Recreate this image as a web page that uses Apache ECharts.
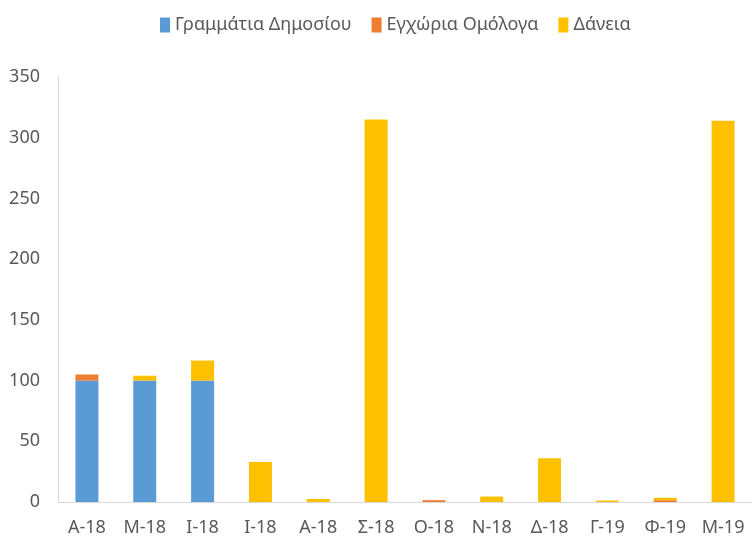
<!DOCTYPE html>
<html>
<head>
<meta charset="utf-8">
<script src="https://cdn.jsdelivr.net/npm/echarts@6/dist/echarts.min.js"></script>
<style>
html, body { margin: 0; padding: 0; background: #fff; }
#chart { width: 752px; height: 545px; }
</style>
</head>
<body>
<div id="chart"></div>
<script>
var categories = ['Α-18', 'Μ-18', 'Ι-18', 'Ι-18', 'Α-18', 'Σ-18', 'Ο-18', 'Ν-18', 'Δ-18', 'Γ-19', 'Φ-19', 'Μ-19'];
var grammatia = [100, 100, 100, 0, 0, 0, 0, 0, 0, 0, 0, 0];
var omologa = [5, 0, 0, 0, 0, 0, 1.5, 0, 0, 0, 1.5, 0];
var daneia = [0, 4, 16.5, 33, 2.5, 315, 0, 4.5, 36, 1.2, 2, 314];
var yTicks = [0, 50, 100, 150, 200, 250, 300, 350];

var font = '"Liberation Sans Narrow", "Noto Sans", sans-serif';
var chart = echarts.init(document.getElementById('chart'));

var option = {
    animation: false,
    legend: {
        top: 11,
        left: 155,
        itemWidth: 10,
        itemHeight: 15,
        itemGap: 20,
        icon: 'rect',
        textStyle: { color: '#595959', fontSize: 18, fontFamily: font }
    },
    grid: { left: 58, right: 0, top: 77, bottom: 43 },
    xAxis: {
        type: 'category',
        data: categories,
        axisLine: { lineStyle: { color: '#d9d9d9' } },
        axisTick: { show: false },
        axisLabel: { color: '#595959', fontSize: 18, fontFamily: font, margin: 17 }
    },
    yAxis: {
        type: 'value',
        min: yTicks[0],
        max: yTicks[yTicks.length - 1],
        interval: 50,
        axisLine: { show: true, lineStyle: { color: '#d9d9d9' } },
        axisTick: { show: false },
        splitLine: { show: false },
        axisLabel: { color: '#595959', fontSize: 18, fontFamily: font, margin: 18 }
    },
    series: [
        { name: 'Γραμμάτια Δημοσίου', type: 'bar', stack: 'a', barWidth: 23, data: grammatia, itemStyle: { color: '#5B9BD5' } },
        { name: 'Εγχώρια Ομόλογα', type: 'bar', stack: 'a', data: omologa, itemStyle: { color: '#ED7D31' } },
        { name: 'Δάνεια', type: 'bar', stack: 'a', data: daneia, itemStyle: { color: '#FFC000' } }
    ]
};

chart.setOption(option);
</script>
</body>
</html>
